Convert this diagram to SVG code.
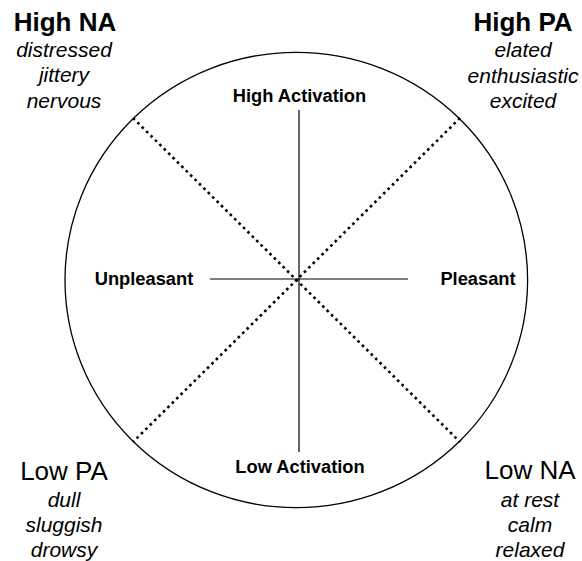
<svg xmlns="http://www.w3.org/2000/svg" width="582" height="561" viewBox="0 0 582 561">
<style>
.t{font-family:"Liberation Sans",Arial,sans-serif;fill:#000;text-anchor:middle}
.h{font-size:26px;font-weight:bold}
.l{font-size:26px}
.i{font-size:21px;font-style:italic}
.a{font-size:18.3px;font-weight:bold}
.ax{stroke:#000;stroke-width:1.2;fill:none}
.dot{stroke:#000;stroke-width:2.6;stroke-dasharray:2.6 3.6;fill:none}
</style>
<rect width="582" height="561" fill="#fff"/>
<g id="circle"><ellipse cx="296.3" cy="280" rx="231.3" ry="227.7" fill="none" stroke="#000" stroke-width="1.3"/></g>
<g id="connectors">
<line class="ax" x1="299" y1="110" x2="299" y2="452"/>
<line class="ax" x1="210" y1="279" x2="408" y2="279"/>
<line class="dot" x1="133" y1="118" x2="460" y2="442"/>
<line class="dot" x1="460" y1="118" x2="133" y2="442"/>
</g>
<g id="high-activation"><text class="t a" x="299.5" y="102">High Activation</text></g>
<g id="low-activation"><text class="t a" x="300" y="473">Low Activation</text></g>
<g id="unpleasant"><text class="t a" x="144" y="285">Unpleasant</text></g>
<g id="pleasant"><text class="t a" x="478" y="285">Pleasant</text></g>
<g id="high-na">
<text class="t h" x="65" y="31">High NA</text>
<text class="t i" x="64" y="57">distressed</text>
<text class="t i" x="64" y="82">jittery</text>
<text class="t i" x="64" y="108">nervous</text>
</g>
<g id="high-pa">
<text class="t h" x="523" y="31">High PA</text>
<text class="t i" x="523" y="57">elated</text>
<text class="t i" x="523" y="83">enthusiastic</text>
<text class="t i" x="523" y="108">excited</text>
</g>
<g id="low-pa">
<text class="t l" x="64" y="480">Low PA</text>
<text class="t i" x="64" y="507">dull</text>
<text class="t i" x="64" y="532">sluggish</text>
<text class="t i" x="64" y="557">drowsy</text>
</g>
<g id="low-na">
<text class="t l" x="530" y="479">Low NA</text>
<text class="t i" x="530" y="507">at rest</text>
<text class="t i" x="530" y="532">calm</text>
<text class="t i" x="530" y="557">relaxed</text>
</g>
</svg>
